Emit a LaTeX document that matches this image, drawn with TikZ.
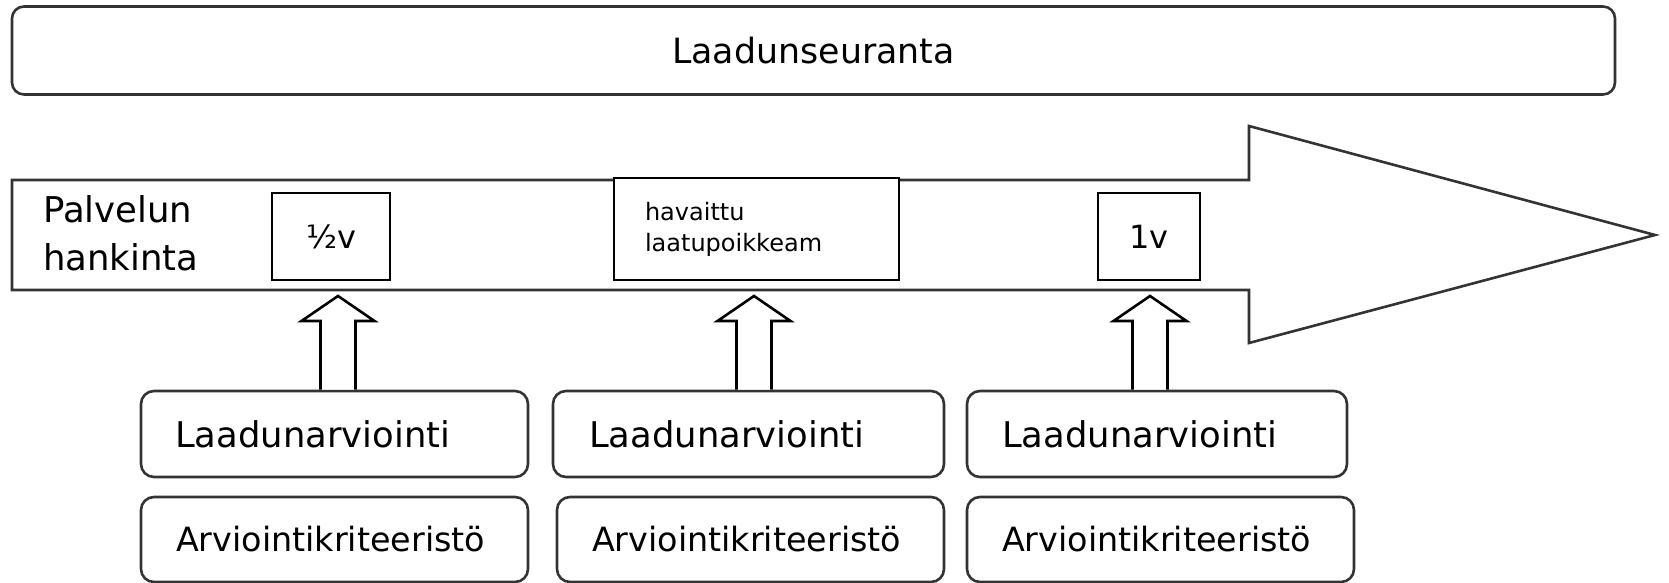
\documentclass[tikz,border=0pt]{standalone}
\usepackage{fontspec}
\setmainfont{DejaVu Sans}
\usetikzlibrary{calc}
\newcommand\uparr[2]{%
  \draw[blk] ($(#1 |- #2.north)+(-17.5,0)$) -- ($(#1)+(-17.5,25)$) -- ($(#1)+(-36.5,25)$) -- (#1)
    -- ($(#1)+(36.5,25)$) -- ($(#1)+(17.5,25)$) -- ($(#1 |- #2.north)+(17.5,0)$);}
\begin{document}
\begin{tikzpicture}[x=1pt,y=-1pt,
  line/.style={draw=black!80, line width=2.6pt},
  rbox/.style={line, rounded corners=13pt, inner ysep=0pt, align=left, fill=white},
  sbox/.style={draw=black, line width=2.6pt, fill=white, inner sep=0pt},
  blk/.style={draw=black, line width=2.6pt, fill=white, line join=miter},
  laf/.style={font=\fontsize{35.4}{40}\selectfont},
  akf/.style={font=\fontsize{33.4}{38}\selectfont}]
\useasboundingbox (0,0) rectangle (1669,583);
% top box
\node[rbox, rounded corners=12pt, minimum width=1603pt, minimum height=88pt, inner sep=0pt, align=center,
  font=\fontsize{34.8}{40}\selectfont] (seur) at (813.5,50.5) {Laadunseuranta};
% big arrow
\coordinate (bsw) at (12,290);
\coordinate (bnw) at (12,180);
\coordinate (tip) at (1655,235);
\draw[line, fill=white, line join=miter] (bnw) -- (1249,180) -- (1249,126) -- (tip) -- (1249,343) -- (1249,290) -- (bsw) -- cycle;
\node[anchor=north west, inner sep=0pt, align=left, font=\fontsize{35.5}{48}\selectfont] (palv) at (43,195.5) {Palvelun\\hankinta};
\node[sbox, minimum width=118pt, minimum height=87pt, font=\fontsize{32}{36}\selectfont] (half) at (331,236.5) {½v};
\node[sbox, minimum width=285pt, minimum height=102pt, text width=223pt, inner xsep=31pt, align=left,
  font=\fontsize{24}{31}\selectfont] (hav) at (756.5,229) {havaittu\\laatupoikkeam};
\node[sbox, minimum width=102pt, minimum height=87pt, font=\fontsize{32}{36}\selectfont] (one) at (1149,236.5) {1v};
% bottom boxes
\node[rbox, laf, minimum height=86pt, text width=319pt, inner xsep=34pt] (la1) at (334.5,434) {Laadunarviointi};
\node[rbox, laf, minimum height=86pt, text width=319pt, inner xsep=36pt] (la2) at (748.5,434) {Laadunarviointi};
\node[rbox, laf, minimum height=86pt, text width=310pt, inner xsep=35pt] (la3) at (1157,434) {Laadunarviointi};
\node[rbox, akf, minimum height=85pt, text width=317pt, inner xsep=35pt] (ak1) at (334.5,539.5) {Arviointikriteeristö};
\node[rbox, akf, minimum height=85pt, text width=317pt, inner xsep=35pt] (ak2) at (750.5,539.5) {Arviointikriteeristö};
\node[rbox, akf, minimum height=85pt, text width=317pt, inner xsep=35pt] (ak3) at (1160.5,539.5) {Arviointikriteeristö};
% up arrows
\coordinate (t1) at (338,296);
\coordinate (t2) at (754,296);
\coordinate (t3) at (1150,296);
\uparr{t1}{la1}
\uparr{t2}{la2}
\uparr{t3}{la3}
\end{tikzpicture}
\end{document}
